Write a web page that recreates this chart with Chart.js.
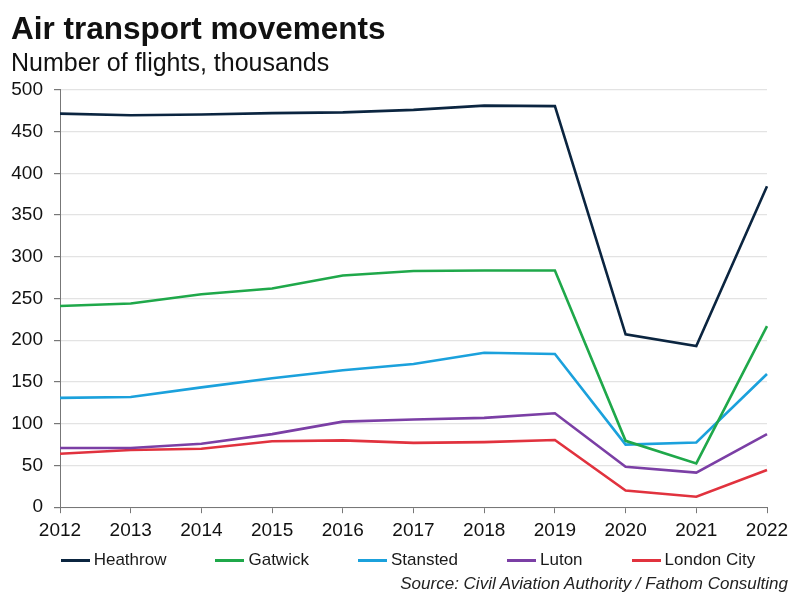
<!DOCTYPE html>
<html><head><meta charset="utf-8">
<script src="https://cdn.jsdelivr.net/npm/chart.js@4"></script>
<style>
html,body{margin:0;padding:0;background:#fff;}
#wrap{position:relative;width:800px;height:600px;font-family:"Liberation Sans",Arial,sans-serif;}
#source{position:absolute;right:12px;top:574px;font-style:italic;font-size:17px;color:#222;white-space:nowrap;}
#legend{position:absolute;left:16px;width:784px;top:550px;height:20px;display:flex;justify-content:center;align-items:center;gap:49px;font-size:17px;color:#1a1a1a;}
#legend .item{display:flex;align-items:center;white-space:nowrap;}
#legend .sw{display:inline-block;width:29px;height:3px;margin-right:4px;}
</style></head>
<body>
<div id="wrap"><canvas id="c" width="800" height="600"></canvas><div id="legend"></div><div id="source">Source: Civil Aviation Authority / Fathom Consulting</div></div>
<script>
const years = ['2012','2013','2014','2015','2016','2017','2018','2019','2020','2021','2022'];
const heathrow   = [471.5, 469.5, 470.5, 472, 473, 476, 481, 480.5, 207, 193, 384.5];
const gatwick    = [241, 244, 255, 262, 277.5, 283, 283.5, 283.5, 79.5, 52.5, 217];
const stansted   = [131, 132, 143.5, 154.5, 164, 171.5, 185, 183.5, 75, 77.5, 159.5];
const luton      = [71, 71, 76, 87.5, 102.5, 105, 107, 112.5, 48.5, 41.5, 87.5];
const londonCity = [64, 68.5, 70, 79, 80, 77, 78, 80.5, 20, 12.5, 44.5];
const yTicks = [0,50,100,150,200,250,300,350,400,450,500];

const FONT = '"Liberation Sans", Arial, sans-serif';
function ds(label, data, color){
  return {label, data, borderColor: color, backgroundColor: color, borderWidth: 2.6,
    pointRadius: 0, tension: 0, fill: false};
}
const chart = new Chart(document.getElementById('c'), {
  type: 'line',
  data: {
    labels: years,
    datasets: [
      ds('Heathrow', heathrow, '#0b2540'),
      ds('Gatwick', gatwick, '#1fa84a'),
      ds('Stansted', stansted, '#1ba1dc'),
      ds('Luton', luton, '#7b3fa5'),
      ds('London City', londonCity, '#e1323e')
    ]
  },
  options: {
    responsive: false,
    animation: false,
    layout: {padding: {left: 11, right: 33, top: 11, bottom: 52}},
    plugins: {
      title: {display: true, text: 'Air transport movements', align: 'start', color: '#111',
        font: {family: FONT, size: 31.5, weight: 'bold'}, padding: {top: 0, bottom: 0}},
      subtitle: {display: true, text: 'Number of flights, thousands', align: 'start', color: '#111',
        font: {family: FONT, size: 25}, padding: {top: 0, bottom: 11}},
      legend: {display: false},
      tooltip: {enabled: false}
    },
    scales: {
      x: {
        offset: false,
        grid: {display: true, drawOnChartArea: false, drawTicks: true, tickLength: 6, tickColor: '#777'},
        border: {display: true, color: '#777', width: 1},
        ticks: {color: '#111', font: {family: FONT, size: 19}, padding: 6, maxRotation: 0, autoSkip: false}
      },
      y: {
        min: 0, max: 500,
        afterBuildTicks: (s) => { s.ticks = yTicks.map(v => ({value: v})); },
        afterFit: (s) => { s.width = 49; },
        grid: {color: '#e3e3e3', lineWidth: 1.2, drawTicks: true, tickLength: 6, tickColor: '#777'},
        border: {display: true, color: '#777', width: 1},
        ticks: {color: '#111', font: {family: FONT, size: 19}, padding: 11}
      }
    }
  }
});
const leg = document.getElementById('legend');
chart.data.datasets.forEach(d => {
  const it = document.createElement('span'); it.className = 'item';
  const sw = document.createElement('span'); sw.className = 'sw'; sw.style.background = d.borderColor;
  it.appendChild(sw); it.appendChild(document.createTextNode(d.label));
  leg.appendChild(it);
});
</script>
</body></html>
